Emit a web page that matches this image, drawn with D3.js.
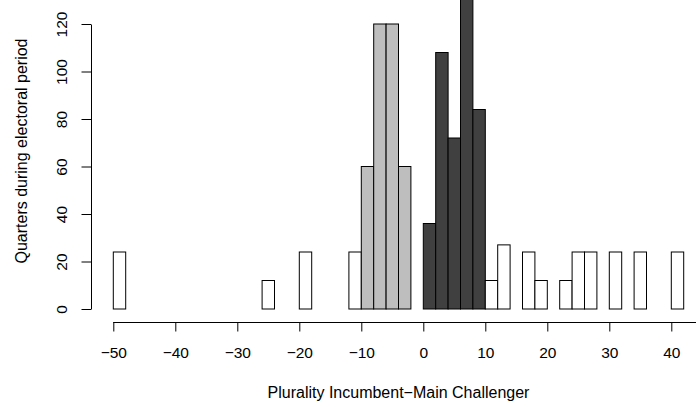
<!DOCTYPE html>
<html>
<head>
<meta charset="utf-8">
<script src="https://cdn.jsdelivr.net/npm/d3@7"></script>
<style>
  html, body { margin: 0; padding: 0; background: #fff; }
  svg { display: block; font-family: "Liberation Sans", Arial, Helvetica, sans-serif; }
</style>
</head>
<body>
<svg id="chart" width="696" height="407"></svg>
<script>
// Histogram of plurality margins, bins of width 2 starting at -50
const binStart = -50;
const binWidth = 2;
const counts = [
  24, 0, 0, 0, 0, 0, 0, 0, 0, 0, 0, 0,   // -50 .. -26
  12, 0, 0, 24, 0, 0, 0, 24,             // -26 .. -10
  60, 120, 120, 60, 0,                   // -10 .. 0
  36, 108, 72, 132, 84,                  // 0 .. 10
  12, 27, 0, 24, 12, 0, 12, 24, 24, 0,   // 10 .. 30
  24, 0, 24, 0, 0, 24                    // 30 .. 42
];
const xTicks = [-50, -40, -30, -20, -10, 0, 10, 20, 30, 40];
const xAxisSpan = [-50, 50];
const yTicks = [0, 20, 40, 60, 80, 100, 120];
const trailingRange = [-10, 0];  // incumbent trailing
const leadingRange = [0, 10];    // incumbent leading
const xTitle = "Plurality Incumbent\u2212Main Challenger";
const yTitle = "Quarters during electoral period";

const svg = d3.select("#chart");

const x = d3.scaleLinear().domain([-50, 50]).range([113.3, 733.3]);
const y = d3.scaleLinear().domain([0, 120]).range([309, 24]);

const bins = counts.map((c, i) => {
  const x0 = binStart + i * binWidth;
  return { x0: x0, x1: x0 + binWidth, count: c };
});

function fillFor(b) {
  if (b.x0 >= trailingRange[0] && b.x1 <= trailingRange[1]) return "#bebebe";
  if (b.x0 >= leadingRange[0] && b.x1 <= leadingRange[1]) return "#404040";
  return "#ffffff";
}

svg.append("g")
  .selectAll("rect")
  .data(bins)
  .join("rect")
  .attr("x", d => x(d.x0))
  .attr("width", d => x(d.x1) - x(d.x0))
  .attr("y", d => y(d.count))
  .attr("height", d => y(0) - y(d.count))
  .attr("fill", fillFor)
  .attr("stroke", "#000")
  .attr("stroke-width", 1);

const fmt = d3.format("d");

// x axis, offset below the bars; its line runs on past the last label
const xAxis = svg.append("g")
  .attr("transform", "translate(0,322)")
  .call(d3.axisBottom(x).tickValues(xTicks).tickFormat(fmt)
    .tickSize(9.5).tickSizeOuter(0).tickPadding(15.5));
xAxis.select(".domain").remove();
xAxis.append("line")
  .attr("x1", x(xAxisSpan[0])).attr("x2", x(xAxisSpan[1]))
  .attr("y1", 0.5).attr("y2", 0.5)
  .attr("stroke", "#000");
xAxis.selectAll("text").attr("font-size", 15.5).attr("fill", "#000")
  .attr("font-family", null);
xAxis.selectAll("line").attr("stroke", "#000");

// y axis, offset left of the bars, labels parallel to the axis
const yAxis = svg.append("g")
  .attr("transform", "translate(91,0)")
  .call(d3.axisLeft(y).tickValues(yTicks).tickFormat(fmt)
    .tickSize(9.5).tickSizeOuter(0));
yAxis.selectAll("text")
  .attr("transform", "rotate(-90)")
  .attr("x", 0).attr("y", -24).attr("dy", 0)
  .attr("text-anchor", "middle")
  .attr("font-size", 15.5).attr("fill", "#000")
  .attr("font-family", null);
yAxis.selectAll("line, path").attr("stroke", "#000");

svg.append("text")
  .attr("x", x(-4)).attr("y", 398)
  .attr("text-anchor", "middle")
  .attr("font-size", 16)
  .text(xTitle);

svg.append("text")
  .attr("transform", "translate(27.3,151) rotate(-90)")
  .attr("text-anchor", "middle")
  .attr("font-size", 16)
  .text(yTitle);
</script>
</body>
</html>
